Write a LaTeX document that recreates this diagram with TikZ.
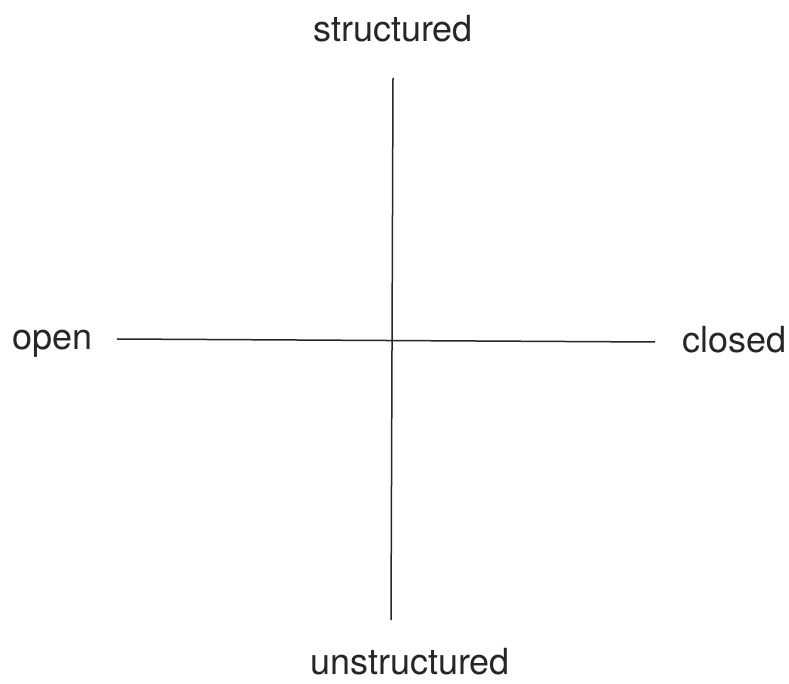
\documentclass[tikz,border=0pt]{standalone}
\usepackage{fontspec}
\setmainfont{TeX Gyre Heros}
\tikzset{
  axis/.style={line width=1.5pt, black!85},
  lbl/.style={inner sep=0pt, font=\fontsize{36}{40}\selectfont, text=black!85}
}
\begin{document}
\begin{tikzpicture}[x=1pt,y=1pt]
\useasboundingbox (0,0) rectangle (789,683);
\node[lbl, anchor=base] (s) at (393,641) {structured};
\node[lbl, anchor=base] (u) at (410,9) {unstructured};
\node[lbl, anchor=base west] (o) at (12,333) {open};
\node[lbl, anchor=base west] (c) at (682,330) {closed};
\coordinate (vt) at (393,605);
\coordinate (vb) at (391,63);
\coordinate (hl) at (117,344);
\coordinate (hr) at (655,341);
\draw[axis] (vt) -- (vb);
\draw[axis] (hl) -- (hr);
\end{tikzpicture}
\end{document}
